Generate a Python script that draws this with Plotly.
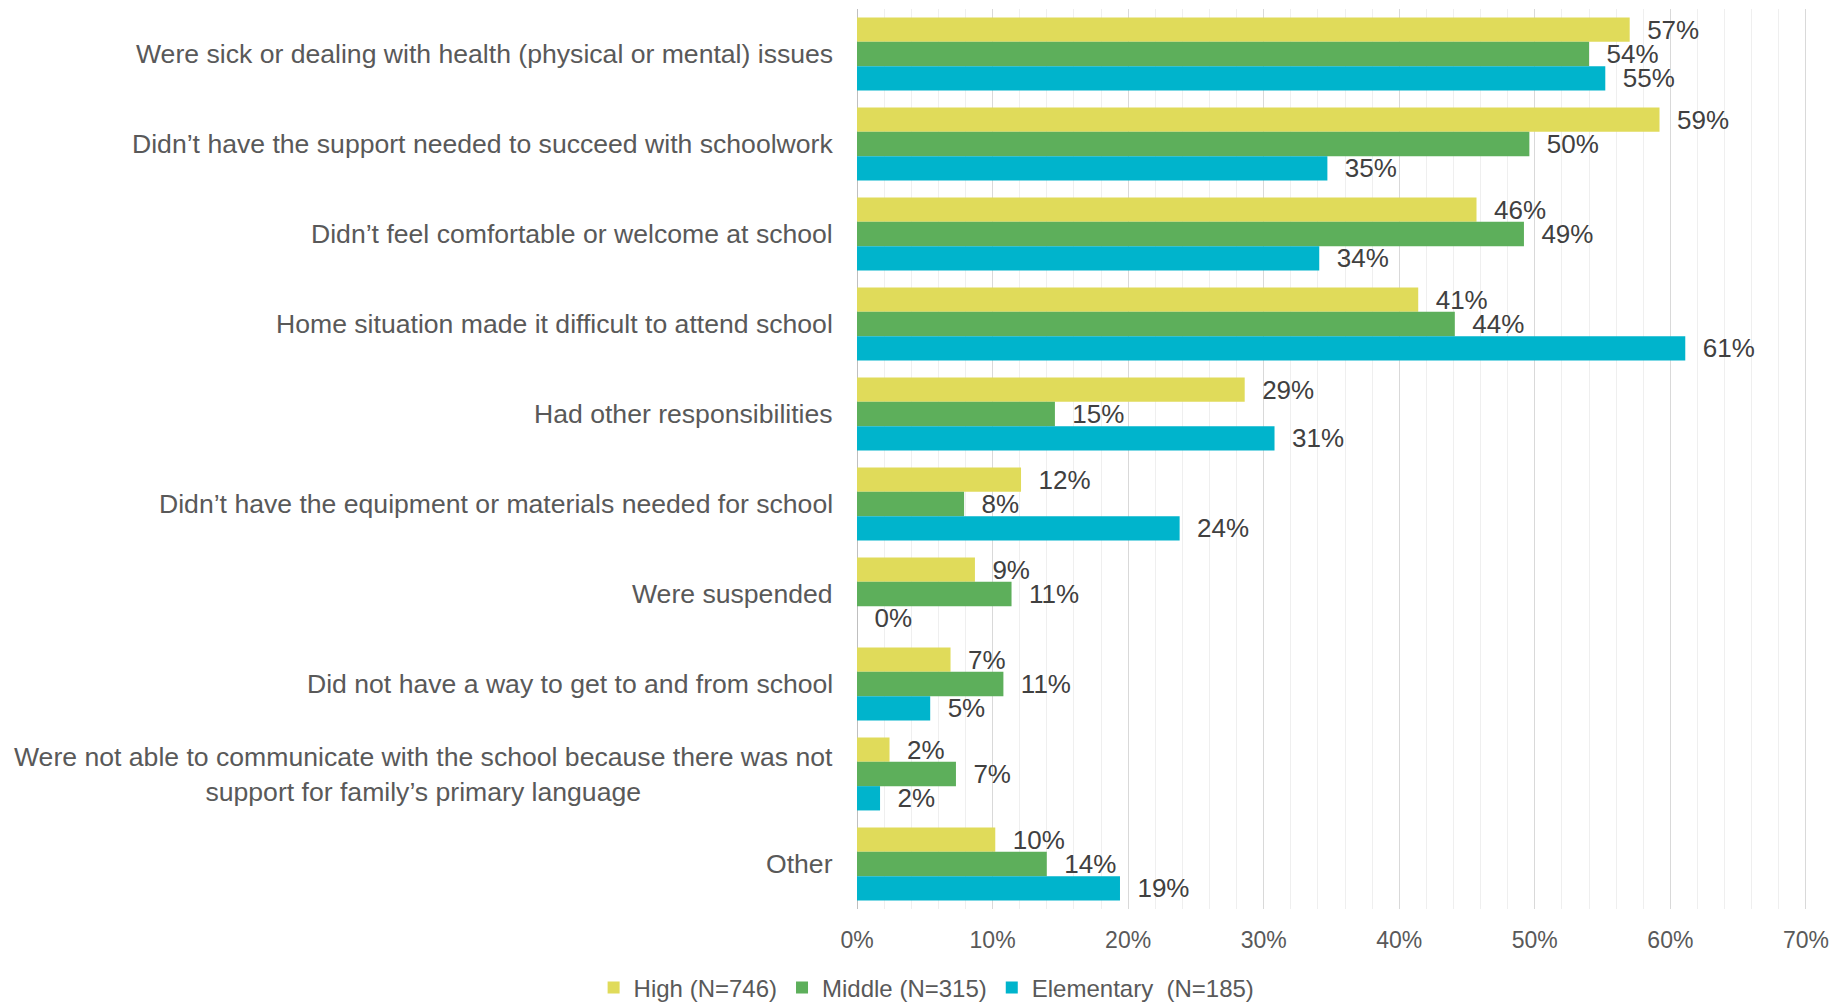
import plotly.graph_objects as go

# Reasons for missing school, by school level (share of respondents, %)
categories = [
    "Were sick or dealing with health (physical or mental) issues",
    "Didn’t have the support needed to succeed with schoolwork",
    "Didn’t feel comfortable or welcome at school",
    "Home situation made it difficult to attend school",
    "Had other responsibilities",
    "Didn’t have the equipment or materials needed for school",
    "Were suspended",
    "Did not have a way to get to and from school",
    "Were not able to communicate with the school because there was not<br>support for family’s primary language",
    "Other",
]

high_vals = [57.0, 59.2, 45.7, 41.4, 28.6, 12.1, 8.7, 6.9, 2.4, 10.2]
middle_vals = [54.0, 49.6, 49.2, 44.1, 14.6, 7.9, 11.4, 10.8, 7.3, 14.0]
elementary_vals = [55.2, 34.7, 34.1, 61.1, 30.8, 23.8, 0.0, 5.4, 1.7, 19.4]

series_names = ["High (N=746)", "Middle (N=315)", "Elementary\u00a0 (N=185)"]
series_colors = ["#E0DB5A", "#5DAF5B", "#00B4CC"]

tick_vals = [0, 10, 20, 30, 40, 50, 60, 70]
tick_text = ["0%", "10%", "20%", "30%", "40%", "50%", "60%", "70%"]

FONT = "Liberation Sans, Arial, sans-serif"
LABEL_GREY = "#595959"
VALUE_GREY = "#404040"

fig = go.Figure()
for name, vals, color in zip(series_names, [high_vals, middle_vals, elementary_vals], series_colors):
    fig.add_trace(go.Bar(
        name=name,
        y=categories,
        x=vals,
        orientation="h",
        marker=dict(color=color, line=dict(width=0)),
        texttemplate="\u00a0\u00a0%{x:.0f}%",
        textposition="outside",
        constraintext="none",
        cliponaxis=False,
        textfont=dict(family=FONT, size=26, color=VALUE_GREY),
        hoverinfo="skip",
    ))

# Category labels, centred line by line and right-aligned against the axis
for cat in categories:
    fig.add_annotation(
        x=0, xref="paper", xanchor="right", xshift=-22,
        y=cat, yref="y", yanchor="middle",
        text=cat, showarrow=False, align="center",
        font=dict(family=FONT, size=26.6, color=LABEL_GREY),
    )

fig.update_layout(
    width=1844, height=1004,
    margin=dict(l=857, r=37, t=9, b=95),
    paper_bgcolor="white", plot_bgcolor="white",
    barmode="group", bargap=0.19, bargroupgap=0,
    font=dict(family=FONT, color=LABEL_GREY),
    showlegend=True,
    legend=dict(
        orientation="h",
        xref="container", x=0.5025, xanchor="center",
        yref="container", y=0.016, yanchor="middle",
        font=dict(family=FONT, size=24, color=LABEL_GREY),
        traceorder="normal",
        bgcolor="rgba(0,0,0,0)",
    ),
    xaxis=dict(
        range=[0, 70.08],
        tickmode="array",
        tickvals=tick_vals,
        ticktext=tick_text,
        tickfont=dict(family=FONT, size=23, color=LABEL_GREY),
        ticks="outside", ticklen=10, tickcolor="rgba(0,0,0,0)",
        showgrid=True, gridcolor="#D9D9D9", gridwidth=1,
        minor=dict(dtick=2, showgrid=True, gridcolor="#EFEFEF", gridwidth=1),
        zeroline=True, zerolinecolor="#BFBFBF", zerolinewidth=1,
        showline=False, fixedrange=True,
    ),
    yaxis=dict(
        type="category",
        autorange="reversed",
        showticklabels=False,
        showgrid=False, zeroline=False, showline=False,
        fixedrange=True,
    ),
)

fig.write_html("out.html")
